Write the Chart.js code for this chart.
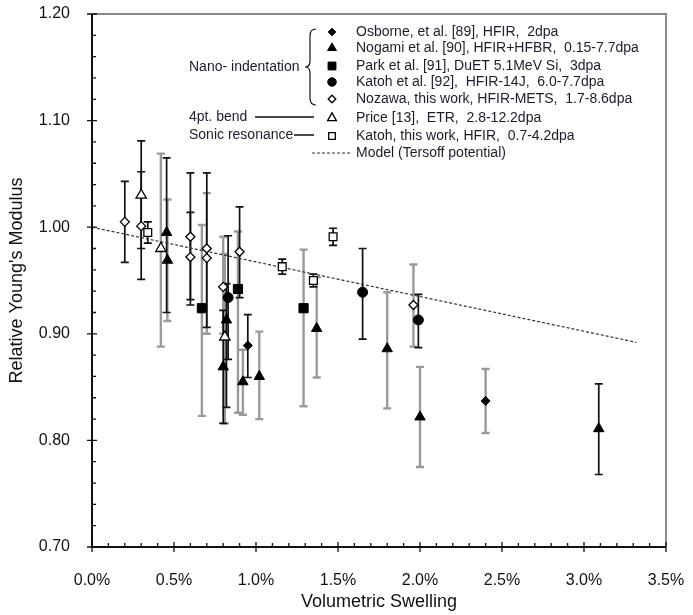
<!DOCTYPE html>
<html>
<head>
<meta charset="utf-8">
<title>Relative Young's Modulus vs Volumetric Swelling</title>
<script src="https://cdn.jsdelivr.net/npm/chart.js@4.4.1/dist/chart.umd.min.js"></script>
<style>
  html, body { margin: 0; padding: 0; background: #fff; }
  #wrap { width: 693px; height: 615px; }
</style>
</head>
<body>
<div id="wrap"><canvas id="chart" width="693" height="615"></canvas></div>
<script>
// tick labels
const xTicks = [0, 0.5, 1.0, 1.5, 2.0, 2.5, 3.0, 3.5];
const yTicks = [0.7, 0.8, 0.9, 1.0, 1.1, 1.2];

// Osborne, et al. [89]
const osborneX = [0.95, 2.40];
const osborneY = [0.889, 0.837];
const osborneLow = [0.859, 0.807];
const osborneHigh = [0.918, 0.867];

// Nogami et al. [90]
const nogamiX = [0.455, 0.46, 0.80, 0.82, 0.92, 1.02, 1.37, 1.80, 2.00, 3.09];
const nogamiY = [0.995, 0.969, 0.869, 0.913, 0.855, 0.860, 0.905, 0.886, 0.822, 0.811];
const nogamiLow = [0.920, 0.912, 0.816, 0.831, 0.824, 0.820, 0.859, 0.830, 0.775, 0.768];
const nogamiHigh = [1.065, 1.026, 0.922, 0.947, 0.885, 0.902, 0.953, 0.939, 0.869, 0.853];

// Park et al. [91]
const parkX = [0.67, 0.89, 1.29];
const parkY = [0.924, 0.942, 0.924];
const parkLow = [0.823, 0.826, 0.832];
const parkHigh = [1.002, 0.996, 0.979];

// Katoh et al. [92]
const katohX = [0.83, 1.65, 1.99];
const katohY = [0.934, 0.939, 0.913];
const katohLow = [0.876, 0.895, 0.887];
const katohHigh = [0.992, 0.980, 0.937];

// Nozawa, this work
const nozawaX = [0.20, 0.30, 0.60, 0.60, 0.70, 0.70, 0.80, 0.90, 1.96];
const nozawaY = [1.005, 1.001, 0.991, 0.972, 0.980, 0.971, 0.944, 0.977, 0.927];
const nozawaLow = [0.967, 0.951, 0.932, 0.927, 0.906, 0.900, 0.900, 0.934, 0.888];
const nozawaHigh = [1.043, 1.052, 1.051, 1.014, 1.051, 1.032, 0.991, 1.019, 0.965];

// Price [13]
const priceX = [0.30, 0.42, 0.81];
const priceY = [1.030, 0.980, 0.897];
const priceLow = [0.980, 0.888, 0.816];
const priceHigh = [1.081, 1.069, 0.975];

// Katoh, this work
const katohTwX = [0.34, 1.16, 1.35, 1.47];
const katohTwY = [0.995, 0.963, 0.950, 0.991];
const katohTwLow = [0.985, 0.956, 0.944, 0.983];
const katohTwHigh = [1.005, 0.970, 0.956, 0.999];

// Model (Tersoff potential)
const modelX = [0, 3.32];
const modelY = [1.000, 0.892];

// error bar shade per point: k = black, g = grey
const osborneTone = ["k", "g"];
const nogamiTone = ["k", "g", "k", "k", "g", "g", "g", "g", "g", "k"];
const parkTone = ["g", "g", "g"];
const katohTone = ["k", "k", "k"];
const nozawaTone = ["k", "k", "k", "k", "k", "g", "g", "k", "g"];
const priceTone = ["k", "g", "g"];
const katohTwTone = ["k", "k", "k", "k"];

const FONT = "'Liberation Sans', Arial, sans-serif";
const INK = "#111";
const GREY_BAR = "#9a9a9a";

function toPoints(xs, ys) {
  return xs.map((x, i) => ({ x, y: ys[i] }));
}

function markerSet(label, xs, ys, low, high, tone, style) {
  return Object.assign({
    label,
    data: toPoints(xs, ys),
    errLow: low,
    errHigh: high,
    barTone: tone,
    showLine: false
  }, style);
}

const filled = { backgroundColor: "#000", borderColor: "#000", borderWidth: 1 };
const hollow = { backgroundColor: "#fff", borderColor: "#000", borderWidth: 1.3 };

const datasets = [
  markerSet("Osborne", osborneX, osborneY, osborneLow, osborneHigh, osborneTone,
    Object.assign({ pointStyle: "rectRot", pointRadius: 4.5 }, filled)),
  markerSet("Nogami", nogamiX, nogamiY, nogamiLow, nogamiHigh, nogamiTone,
    Object.assign({ pointStyle: "triangle", pointRadius: 6 }, filled)),
  markerSet("Park", parkX, parkY, parkLow, parkHigh, parkTone,
    Object.assign({ pointStyle: "rect", pointRadius: 6.5 }, filled)),
  markerSet("Katoh et al.", katohX, katohY, katohLow, katohHigh, katohTone,
    Object.assign({ pointStyle: "circle", pointRadius: 5 }, filled)),
  markerSet("Nozawa", nozawaX, nozawaY, nozawaLow, nozawaHigh, nozawaTone,
    Object.assign({ pointStyle: "rectRot", pointRadius: 4.5 }, hollow)),
  markerSet("Price", priceX, priceY, priceLow, priceHigh, priceTone,
    Object.assign({ pointStyle: "triangle", pointRadius: 6 }, hollow)),
  markerSet("Katoh, this work", katohTwX, katohTwY, katohTwLow, katohTwHigh, katohTwTone,
    Object.assign({ pointStyle: "rect", pointRadius: 5.5 }, hollow)),
  {
    label: "Model",
    data: toPoints(modelX, modelY),
    showLine: true,
    pointRadius: 0,
    borderColor: "#333",
    borderWidth: 1.2,
    borderDash: [3, 2],
    fill: false
  }
];

// error bars, grey ones first so the black ones sit on top
const errorBarPlugin = {
  id: "errorBars",
  beforeDatasetsDraw(chart) {
    const { ctx, scales: { x, y } } = chart;
    ["g", "k"].forEach((pass) => {
      chart.data.datasets.forEach((ds) => {
        if (!ds.errLow) return;
        ds.data.forEach((pt, i) => {
          if (ds.barTone[i] !== pass) return;
          const px = x.getPixelForValue(pt.x);
          const top = y.getPixelForValue(ds.errHigh[i]);
          const bot = y.getPixelForValue(ds.errLow[i]);
          ctx.save();
          ctx.strokeStyle = pass === "g" ? GREY_BAR : INK;
          ctx.lineWidth = pass === "g" ? 2.4 : 1.7;
          ctx.beginPath();
          ctx.moveTo(px, top);
          ctx.lineTo(px, bot);
          ctx.moveTo(px - 4, top);
          ctx.lineTo(px + 4, top);
          ctx.moveTo(px - 4, bot);
          ctx.lineTo(px + 4, bot);
          ctx.stroke();
          ctx.restore();
        });
      });
    });
  }
};

// frame and tick marks
const frameAxesPlugin = {
  id: "frameAxes",
  afterDraw(chart) {
    const { ctx, chartArea: a, scales: { x, y } } = chart;
    ctx.save();
    ctx.lineCap = "butt";
    ctx.strokeStyle = "#8a8a8a";
    ctx.lineWidth = 2;
    ctx.beginPath();
    ctx.moveTo(a.left, a.top);
    ctx.lineTo(a.right, a.top);
    ctx.lineTo(a.right, a.bottom);
    ctx.stroke();

    ctx.strokeStyle = INK;
    ctx.lineWidth = 2;
    ctx.beginPath();
    ctx.moveTo(a.left, a.top);
    ctx.lineTo(a.left, a.bottom);
    ctx.lineTo(a.right, a.bottom);
    ctx.stroke();

    ctx.lineWidth = 1.3;
    ctx.beginPath();
    for (let k = 0; k <= 35; k++) {
      const px = x.getPixelForValue(k / 10);
      if (k % 5 === 0) {
        ctx.moveTo(px, a.bottom + 5);
        ctx.lineTo(px, a.bottom - 5);
      } else {
        ctx.moveTo(px, a.bottom);
        ctx.lineTo(px, a.bottom - 4);
      }
    }
    for (let k = 0; k <= 25; k++) {
      const py = y.getPixelForValue(0.7 + k * 0.02);
      if (k % 5 === 0) {
        ctx.moveTo(a.left - 5, py);
        ctx.lineTo(a.left + 5, py);
      } else {
        ctx.moveTo(a.left, py);
        ctx.lineTo(a.left + 4, py);
      }
    }
    ctx.stroke();
    ctx.restore();
  }
};

// legend block with the brace and method labels
const legendRows = [
  { text: "Osborne, et al. [89], HFIR,  2dpa", y: 32, set: 0 },
  { text: "Nogami et al. [90], HFIR+HFBR,  0.15-7.7dpa", y: 48, set: 1 },
  { text: "Park et al. [91], DuET 5.1MeV Si,  3dpa", y: 66, set: 2 },
  { text: "Katoh et al. [92],  HFIR-14J,  6.0-7.7dpa", y: 82, set: 3 },
  { text: "Nozawa, this work, HFIR-METS,  1.7-8.6dpa", y: 99, set: 4 },
  { text: "Price [13],  ETR,  2.8-12.2dpa", y: 118, set: 5 },
  { text: "Katoh, this work, HFIR,  0.7-4.2dpa", y: 136, set: 6 },
  { text: "Model (Tersoff potential)", y: 153, set: 7 }
];

const legendPlugin = {
  id: "customLegend",
  afterDraw(chart) {
    const { ctx } = chart;
    const markX = 332;
    const textX = 356;
    ctx.save();
    ctx.font = "14px " + FONT;
    ctx.textBaseline = "middle";
    ctx.textAlign = "left";

    legendRows.forEach((row) => {
      const ds = chart.data.datasets[row.set];
      if (ds.showLine) {
        ctx.strokeStyle = "#333";
        ctx.lineWidth = 1.2;
        ctx.setLineDash([3, 2]);
        ctx.beginPath();
        ctx.moveTo(312, row.y);
        ctx.lineTo(350, row.y);
        ctx.stroke();
        ctx.setLineDash([]);
      } else {
        ctx.fillStyle = ds.backgroundColor;
        ctx.strokeStyle = ds.borderColor;
        ctx.lineWidth = ds.borderWidth;
        Chart.helpers.drawPoint(ctx, {
          pointStyle: ds.pointStyle,
          radius: ds.pointRadius * 0.85,
          rotation: 0,
          borderWidth: ds.borderWidth
        }, markX, row.y);
      }
      ctx.fillStyle = "#1c1c2a";
      ctx.fillText(row.text, textX, row.y);
    });

    // method labels
    ctx.fillStyle = "#1c1c2a";
    ctx.fillText("Nano- indentation", 189, 67);
    ctx.fillText("4pt. bend", 189, 117);
    ctx.fillText("Sonic resonance", 189, 135);

    ctx.strokeStyle = INK;
    ctx.lineWidth = 1.3;
    ctx.beginPath();
    ctx.moveTo(255, 117);
    ctx.lineTo(314, 117);
    ctx.moveTo(294, 135);
    ctx.lineTo(314, 135);
    ctx.stroke();

    // curly brace
    ctx.lineWidth = 1.2;
    ctx.beginPath();
    ctx.moveTo(316, 29);
    ctx.quadraticCurveTo(310, 29, 310, 36);
    ctx.lineTo(310, 61);
    ctx.quadraticCurveTo(310, 67, 305, 67);
    ctx.quadraticCurveTo(310, 67, 310, 73);
    ctx.lineTo(310, 98);
    ctx.quadraticCurveTo(310, 105, 316, 105);
    ctx.stroke();
    ctx.restore();
  }
};

Chart.defaults.font.family = FONT;
Chart.defaults.color = INK;

new Chart(document.getElementById("chart"), {
  type: "scatter",
  data: { datasets },
  options: {
    responsive: false,
    animation: false,
    events: [],
    layout: { padding: { top: 14, right: 27, left: 0, bottom: 0 } },
    plugins: {
      legend: { display: false },
      tooltip: { enabled: false }
    },
    scales: {
      x: {
        type: "linear",
        min: 0,
        max: 3.5,
        afterBuildTicks(scale) {
          scale.ticks = xTicks.map((v) => ({ value: v }));
        },
        afterFit(scale) {
          scale.height = 68;
          scale.paddingLeft = 0;
          scale.paddingRight = 0;
        },
        grid: { display: false },
        border: { display: false },
        ticks: {
          autoSkip: false,
          maxRotation: 0,
          padding: 16,
          color: INK,
          font: { size: 16 },
          callback: (v) => Number(v).toFixed(1) + "%"
        },
        title: {
          display: true,
          text: "Volumetric Swelling",
          color: INK,
          font: { size: 18 },
          padding: { top: 0, bottom: 2 }
        }
      },
      y: {
        type: "linear",
        min: 0.7,
        max: 1.2,
        afterBuildTicks(scale) {
          scale.ticks = yTicks.map((v) => ({ value: v }));
        },
        afterFit(scale) {
          scale.width = 92;
          scale.paddingTop = 0;
          scale.paddingBottom = 0;
        },
        grid: { display: false },
        border: { display: false },
        ticks: {
          padding: 14,
          color: INK,
          font: { size: 16 },
          callback: (v) => Number(v).toFixed(2)
        },
        title: {
          display: true,
          text: "Relative Young's Modulus",
          color: INK,
          font: { size: 18 },
          padding: { top: 6, bottom: 0 }
        }
      }
    }
  },
  plugins: [errorBarPlugin, frameAxesPlugin, legendPlugin]
});
</script>
</body>
</html>
